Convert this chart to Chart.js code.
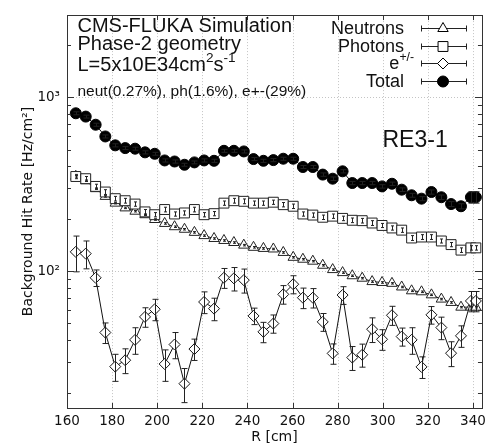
<!DOCTYPE html>
<html>
<head>
<meta charset="utf-8">
<script src="https://cdn.jsdelivr.net/npm/chart.js@4.4.1/dist/chart.umd.min.js"></script>
<style>
  html, body { margin: 0; padding: 0; background: #fff; }
  #wrap { width: 491px; height: 448px; }
</style>
</head>
<body>
<div id="wrap"><canvas id="rateChart"></canvas></div>
<script>
// radius of each bin [cm]
const radius = [163.9, 168.3, 172.7, 177.0, 181.4, 185.8, 190.2, 194.6, 198.9, 203.3,
                207.7, 212.1, 216.5, 220.8, 225.2, 229.6, 234.0, 238.4, 242.7, 247.1,
                251.5, 255.9, 260.3, 264.6, 269.0, 273.4, 277.8, 282.2, 286.5, 290.9,
                295.3, 299.7, 304.1, 308.4, 312.8, 317.2, 321.6, 326.0, 330.3, 334.7,
                339.1, 341.3];

// hit rates [Hz/cm2]
const total = [809, 774, 695, 595, 529, 510, 506, 482, 473, 433,
               427, 409, 422, 433, 431, 492, 492, 488, 441, 431,
               435, 443, 443, 397, 397, 359, 340, 375, 321, 321,
               321, 307, 318, 294, 273, 261, 285, 266, 243, 236,
               266, 266];
const totalErr = [16, 15, 14, 12, 11, 10, 10, 10, 9, 9,
                  9, 8, 8, 9, 9, 10, 10, 10, 9, 9,
                  9, 9, 9, 8, 8, 8, 8, 8, 7, 7,
                  7, 7, 7, 7, 7, 7, 8, 8, 8, 8,
                  20, 20];

const photons = [350, 340, 307, 285, 261, 254, 243, 219, 211, 226,
                 213, 216, 226, 211, 214, 246, 254, 252, 246, 246,
                 249, 241, 236, 213, 210, 204, 207, 201, 196, 195,
                 189, 183, 177, 172, 155, 157, 157, 149, 142, 132,
                 136, 136];
const photonErr = [10, 10, 9, 9, 8, 8, 7, 7, 6, 7,
                   6, 6, 7, 6, 6, 7, 8, 8, 7, 7,
                   7, 7, 7, 6, 6, 6, 6, 6, 6, 6,
                   6, 5, 5, 5, 5, 5, 5, 4, 4, 4,
                   4, 4];

const neutrons = [351, 331, 298, 269, 246, 231, 221, 211, 198, 188,
                  180, 174, 167, 160, 154, 150, 146, 141, 137, 135,
                  134, 128, 120, 117, 114, 108, 102, 98, 94, 91,
                  87, 86, 85, 81, 77, 76, 73, 69, 66, 62,
                  62, 62];
const neutronErr = [3.5, 3.3, 3, 2.7, 2.5, 2.3, 2.2, 2.1, 2, 1.9,
                    1.8, 1.7, 1.7, 1.6, 1.5, 1.5, 1.5, 1.4, 1.4, 1.4,
                    1.3, 1.3, 1.2, 1.2, 1.1, 1.1, 1, 1, 0.9, 0.9,
                    0.9, 0.9, 0.8, 0.8, 0.8, 0.8, 0.7, 0.7, 0.7, 0.6,
                    0.6, 0.6];

const electrons = [129, 126, 91.5, 44.3, 28.2, 30.7, 40.2, 54.5, 60.3, 29.2,
                   37.8, 22.5, 35.6, 66.4, 60.8, 91.5, 90.8, 88.7, 55.2, 44.7,
                   49.9, 73.5, 84, 70.3, 70.3, 51, 33.6, 72.8, 31.8, 33,
                   46.3, 40.5, 55.7, 42, 40.2, 28.1, 56, 47.3, 33.7, 42.4,
                   67.3, 67.3];
const electronErr = [30, 23, 10, 6, 5, 5, 7, 7, 8.5, 6,
                     6.5, 5, 5, 9.5, 9, 12, 14, 14, 6, 6,
                     6, 9, 10, 9.5, 9, 6, 4.5, 8.5, 5, 5,
                     7.5, 5.5, 7, 5, 7, 4, 6.5, 7, 5.5, 6,
                     9, 9];

const xTicks = [160, 180, 200, 220, 240, 260, 280, 300, 320, 340];
const yTicks = [100, 1000];
const yTickLabels = ['10²', '10³'];

const toPoints = vals => vals.map((v, i) => ({ x: radius[i], y: v }));

// dotted grid, frame and inward tick marks
const framePlugin = {
    id: 'frame',
    beforeDatasetsDraw(chart) {
        const { ctx, chartArea: a, scales: { x, y } } = chart;
        ctx.save();
        ctx.strokeStyle = '#c4c4c4';
        ctx.lineWidth = 1;
        ctx.setLineDash([1, 2]);
        ctx.beginPath();
        xTicks.forEach(v => {
            if (v <= x.min) return;
            const px = Math.round(x.getPixelForValue(v)) + 0.5;
            ctx.moveTo(px, a.top);
            ctx.lineTo(px, a.bottom);
        });
        yTicks.forEach(v => {
            const py = Math.round(y.getPixelForValue(v)) + 0.5;
            ctx.moveTo(a.left, py);
            ctx.lineTo(a.right, py);
        });
        ctx.stroke();
        ctx.restore();
    },
    afterDatasetsDraw(chart) {
        const { ctx, chartArea: a, scales: { x, y } } = chart;
        ctx.save();
        ctx.strokeStyle = '#333';
        ctx.lineWidth = 1;
        ctx.beginPath();
        // y ticks (log, with minors) on left and right
        [10, 100, 1000].forEach(d => {
            for (let k = 1; k <= 9; k++) {
                const v = k * d;
                if (v < y.min || v > y.max) continue;
                const py = Math.round(y.getPixelForValue(v)) + 0.5;
                const len = k === 1 ? 7 : 4;
                ctx.moveTo(a.left, py); ctx.lineTo(a.left + len, py);
                ctx.moveTo(a.right, py); ctx.lineTo(a.right - len, py);
            }
        });
        xTicks.forEach(v => {
            const px = Math.round(x.getPixelForValue(v)) + 0.5;
            ctx.moveTo(px, a.bottom); ctx.lineTo(px, a.bottom - 5);
            ctx.moveTo(px, a.top); ctx.lineTo(px, a.top + 5);
        });
        ctx.stroke();
        ctx.strokeRect(Math.round(a.left) + 0.5, Math.round(a.top) + 0.5,
                       Math.round(a.right - a.left), Math.round(a.bottom - a.top));
        ctx.restore();
    }
};

// vertical error bars
const errorBarPlugin = {
    id: 'errorBars',
    afterDatasetsDraw(chart) {
        const { ctx, scales: { x, y } } = chart;
        ctx.save();
        ctx.strokeStyle = '#222';
        ctx.lineWidth = 1;
        chart.data.datasets.forEach(ds => {
            if (!ds.errors) return;
            ctx.beginPath();
            ds.data.forEach((p, i) => {
                const e = ds.errors[i];
                const px = Math.round(x.getPixelForValue(p.x)) + 0.5;
                const top = y.getPixelForValue(p.y + e);
                const bot = y.getPixelForValue(p.y - e);
                ctx.moveTo(px, top); ctx.lineTo(px, bot);
                ctx.moveTo(px - ds.capHalf, top); ctx.lineTo(px + ds.capHalf, top);
                ctx.moveTo(px - ds.capHalf, bot); ctx.lineTo(px + ds.capHalf, bot);
            });
            ctx.stroke();
        });
        ctx.restore();
    }
};

// text with superscripts: parts = [[text, isSup], ...]
function drawRich(ctx, parts, x, y, size, align) {
    const family = '"Liberation Sans", Arial, sans-serif';
    const supSize = size * 0.68;
    let w = 0;
    parts.forEach(([t, sup]) => {
        ctx.font = (sup ? supSize : size) + 'px ' + family;
        w += ctx.measureText(t).width;
    });
    let cx = align === 'right' ? x - w : x;
    ctx.textAlign = 'left';
    ctx.textBaseline = 'alphabetic';
    parts.forEach(([t, sup]) => {
        ctx.font = (sup ? supSize : size) + 'px ' + family;
        ctx.fillText(t, cx, sup ? y - size * 0.45 : y);
        cx += ctx.measureText(t).width;
    });
}

const legendEntries = [
    { label: [['Neutrons', false]], right: 404, style: 'triangle', radius: 6, fill: '#fff', y: 28 },
    { label: [['Photons', false]], right: 404, style: 'rect', radius: 7, fill: '#fff', y: 45.7 },
    { label: [['e', false], ['+/-', true]], right: 414, style: 'rectRot', radius: 5.5, fill: '#fff', y: 63 },
    { label: [['Total', false]], right: 404, style: 'circle', radius: 5.5, fill: '#000', y: 80.7 }
];

const annotationPlugin = {
    id: 'annotations',
    afterDraw(chart) {
        const { ctx } = chart;
        ctx.save();
        ctx.fillStyle = '#111';
        drawRich(ctx, [['CMS-FLUKA Simulation', false]], 77.5, 31.5, 20, 'left');
        drawRich(ctx, [['Phase-2 geometry', false]], 77.5, 50, 20, 'left');
        drawRich(ctx, [['L=5x10E34cm', false], ['2', true], ['s', false], ['-1', true]], 77.5, 70.5, 20, 'left');
        drawRich(ctx, [['neut(0.27%), ph(1.6%), e+-(29%)', false]], 77.5, 96, 15.5, 'left');
        drawRich(ctx, [['RE3-1', false]], 382.5, 147, 23, 'left');

        legendEntries.forEach(en => {
            ctx.fillStyle = '#111';
            drawRich(ctx, en.label, en.right, en.y + 6.3, 18, 'right');
            ctx.strokeStyle = '#222';
            ctx.lineWidth = 1;
            const yy = Math.round(en.y) + 0.5;
            ctx.beginPath();
            ctx.moveTo(421, yy); ctx.lineTo(467, yy);
            ctx.moveTo(421.5, yy - 3); ctx.lineTo(421.5, yy + 3);
            ctx.moveTo(466.5, yy - 3); ctx.lineTo(466.5, yy + 3);
            ctx.stroke();
            ctx.fillStyle = en.fill;
            ctx.strokeStyle = '#000';
            Chart.helpers.drawPoint(ctx, { pointStyle: en.style, radius: en.radius, rotation: 0, borderWidth: 1 }, 443, yy);
        });
        ctx.restore();
    }
};

Chart.defaults.font.family = '"DejaVu Sans", Verdana, sans-serif';
Chart.defaults.color = '#111';

const ctx = document.getElementById('rateChart').getContext('2d');
const rateChart = new Chart(ctx, {
    type: 'scatter',
    data: {
        datasets: [
            {
                label: 'Total',
                data: toPoints(total),
                errors: totalErr,
                capHalf: 3,
                showLine: true,
                borderColor: '#111',
                borderWidth: 1,
                pointStyle: 'circle',
                pointRadius: 5.5,
                pointBackgroundColor: '#000',
                pointBorderColor: '#000',
                pointBorderWidth: 1
            },
            {
                label: 'e+/-',
                data: toPoints(electrons),
                errors: electronErr,
                capHalf: 3,
                showLine: true,
                borderColor: '#111',
                borderWidth: 1,
                pointStyle: 'rectRot',
                pointRadius: 5.5,
                pointBackgroundColor: '#fff',
                pointBorderColor: '#111',
                pointBorderWidth: 1
            },
            {
                label: 'Photons',
                data: toPoints(photons),
                errors: photonErr,
                capHalf: 1.5,
                showLine: true,
                borderColor: '#111',
                borderWidth: 1,
                pointStyle: 'rect',
                pointRadius: 7,
                pointBackgroundColor: '#fff',
                pointBorderColor: '#222',
                pointBorderWidth: 1
            },
            {
                label: 'Neutrons',
                data: toPoints(neutrons),
                errors: neutronErr,
                capHalf: 1.5,
                showLine: true,
                borderColor: '#111',
                borderWidth: 1,
                pointStyle: 'triangle',
                pointRadius: 6,
                pointBackgroundColor: '#fff',
                pointBorderColor: '#222',
                pointBorderWidth: 1
            }
        ]
    },
    options: {
        responsive: true,
        maintainAspectRatio: false,
        animation: false,
        layout: { padding: { top: 13, right: 8, left: 0, bottom: 0 } },
        scales: {
            x: {
                type: 'linear',
                min: 160,
                max: 344,
                afterBuildTicks: s => { s.ticks = xTicks.map(v => ({ value: v })); },
                afterFit: s => { s.height = 40; },
                grid: { display: false, drawTicks: false },
                border: { display: false },
                ticks: { padding: 5, font: { size: 13.5 }, color: '#111', autoSkip: false, maxRotation: 0 },
                title: { display: true, text: 'R [cm]', font: { size: 14 }, color: '#111', padding: { top: 0, bottom: 2 } }
            },
            y: {
                type: 'logarithmic',
                min: 16.3,
                max: 2970,
                afterBuildTicks: s => { s.ticks = yTicks.map(v => ({ value: v })); },
                afterFit: s => { s.width = 67; },
                grid: { display: false, drawTicks: false },
                border: { display: false },
                ticks: {
                    padding: 7,
                    font: { size: 13.5 },
                    color: '#111',
                    autoSkip: false,
                    callback: v => yTickLabels[yTicks.indexOf(v)] ?? ''
                },
                title: { display: true, text: 'Background Hit Rate [Hz/cm²]', font: { size: 14 }, color: '#111', padding: { top: 20, bottom: 0 } }
            }
        },
        plugins: {
            legend: { display: false },
            tooltip: { enabled: false }
        }
    },
    plugins: [framePlugin, errorBarPlugin, annotationPlugin]
});
</script>
</body>
</html>
